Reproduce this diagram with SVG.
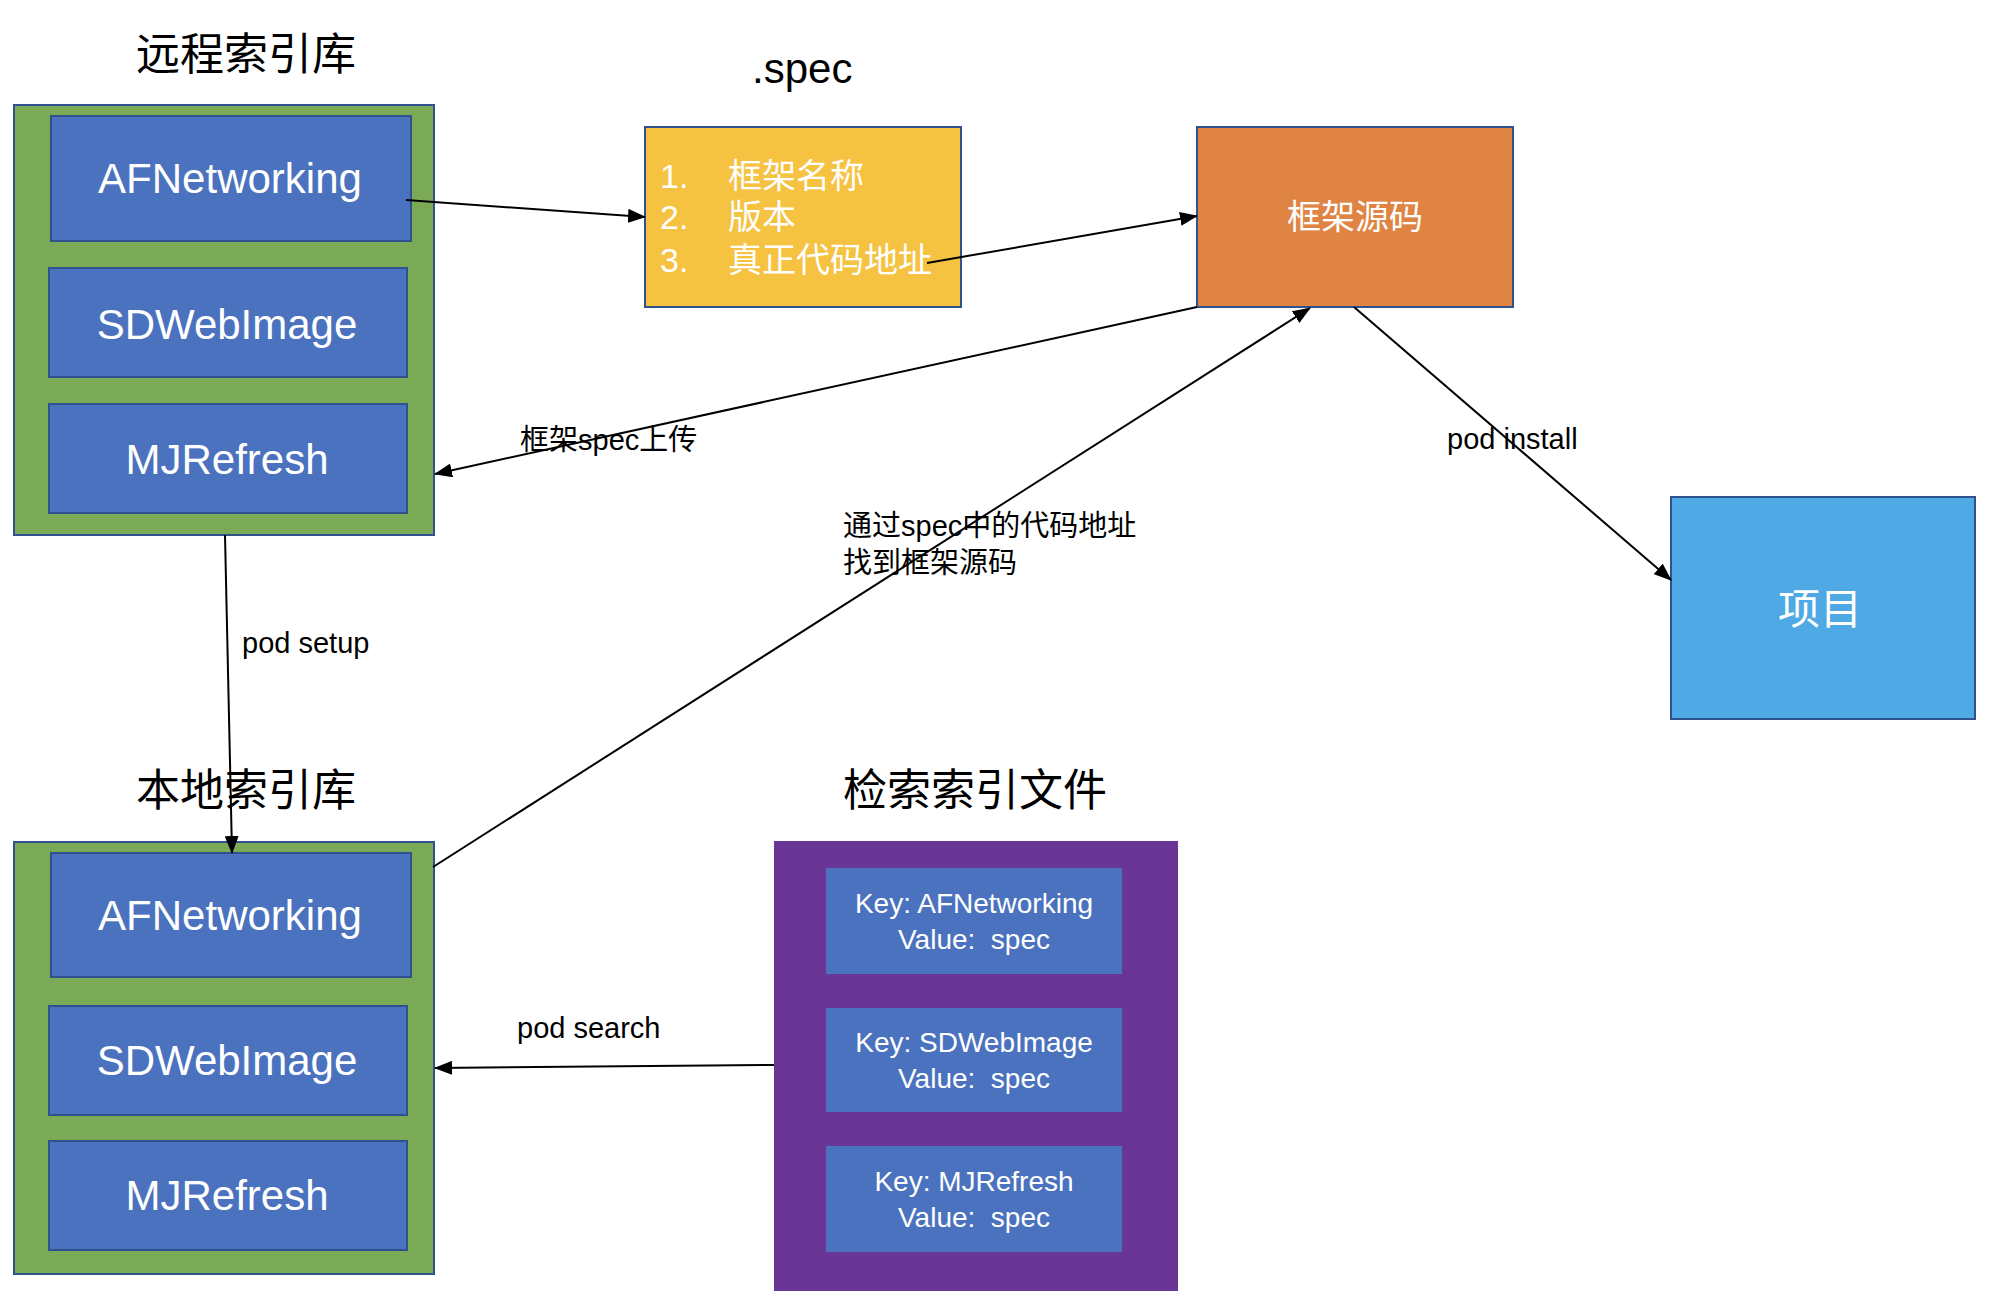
<svg xmlns="http://www.w3.org/2000/svg" width="1990" height="1304" viewBox="0 0 1990 1304">
<style>
text{font-family:"Liberation Sans","Noto Sans CJK SC",sans-serif;}
.box{stroke:#2F528F;stroke-width:2;}
.green{fill:#7AAA55;}
.blue{fill:#4B72BE;}
.yellow{fill:#F5C242;}
.orange{fill:#E08444;}
.purple{fill:#6A3696;}
.sky{fill:#4FA9E5;}
.lbl{fill:#fff;font-size:42px;text-anchor:middle;}
.kv{fill:#fff;font-size:28px;text-anchor:middle;}
.title{fill:#000;font-size:44px;}
.edge{fill:#000;font-size:29px;}
.conn line{stroke:#000;stroke-width:2;marker-end:url(#ah);}
</style>
<defs>
<marker id="ah" markerUnits="userSpaceOnUse" markerWidth="18" markerHeight="14" viewBox="0 0 18 14" refX="17" refY="7" orient="auto">
<path d="M0,0 L18,7 L0,14 Z" fill="#000"/>
</marker>
</defs>
<rect width="1990" height="1304" fill="#fff"/>

<g id="remote">
<text class="title" x="136" y="70">远程索引库</text>
<rect class="box green" x="14" y="105" width="420" height="430"/>
<rect class="box blue" x="51" y="116" width="360" height="125"/>
<text class="lbl" x="230" y="193">AFNetworking</text>
<rect class="box blue" x="49" y="268" width="358" height="109"/>
<text class="lbl" x="227" y="339">SDWebImage</text>
<rect class="box blue" x="49" y="404" width="358" height="109"/>
<text class="lbl" x="227" y="474">MJRefresh</text>
</g>

<g id="spec">
<text class="title" x="752" y="83" style="font-size:42px">.spec</text>
<rect class="box yellow" x="645" y="127" width="316" height="180"/>
<g fill="#fff" font-size="34">
<text x="660" y="188">1.</text><text x="728" y="188">框架名称</text>
<text x="660" y="229">2.</text><text x="728" y="229">版本</text>
<text x="660" y="272">3.</text><text x="728" y="272">真正代码地址</text>
</g>
</g>

<g id="source">
<rect class="box orange" x="1197" y="127" width="316" height="180"/>
<text x="1355" y="229" fill="#fff" font-size="34" text-anchor="middle">框架源码</text>
</g>

<g id="project">
<rect class="box sky" x="1671" y="497" width="304" height="222"/>
<text x="1820" y="624" fill="#fff" font-size="42" text-anchor="middle">项目</text>
</g>

<g id="local">
<text class="title" x="136" y="806">本地索引库</text>
<rect class="box green" x="14" y="842" width="420" height="432"/>
<rect class="box blue" x="51" y="853" width="360" height="124"/>
<text class="lbl" x="230" y="930">AFNetworking</text>
<rect class="box blue" x="49" y="1006" width="358" height="109"/>
<text class="lbl" x="227" y="1075">SDWebImage</text>
<rect class="box blue" x="49" y="1141" width="358" height="109"/>
<text class="lbl" x="227" y="1210">MJRefresh</text>
</g>

<g id="index">
<text class="title" x="843" y="806">检索索引文件</text>
<rect class="purple" x="774" y="841" width="404" height="450"/>
<rect class="blue" x="826" y="868" width="296" height="106"/>
<text class="kv" x="974" y="913">Key: AFNetworking</text>
<text class="kv" x="974" y="949">Value:&#160; spec</text>
<rect class="blue" x="826" y="1008" width="296" height="104"/>
<text class="kv" x="974" y="1052">Key: SDWebImage</text>
<text class="kv" x="974" y="1088">Value:&#160; spec</text>
<rect class="blue" x="826" y="1146" width="296" height="106"/>
<text class="kv" x="974" y="1191">Key: MJRefresh</text>
<text class="kv" x="974" y="1227">Value:&#160; spec</text>
</g>

<g id="connectors" class="conn">
<line x1="406" y1="200" x2="645" y2="217"/>
<line x1="927" y1="263" x2="1197" y2="216"/>
<line x1="1197" y1="307" x2="435" y2="474"/>
<line x1="433" y1="867" x2="1310" y2="308"/>
<line x1="1354" y1="307" x2="1671" y2="580"/>
<line x1="225" y1="535" x2="232" y2="853"/>
<line x1="774" y1="1065" x2="435" y2="1068"/>
</g>

<g id="labels">
<text class="edge" x="520" y="450">框架spec上传</text>
<text class="edge" x="1447" y="449">pod install</text>
<text class="edge" x="242" y="653">pod setup</text>
<text class="edge" x="843" y="536">通过spec中的代码地址</text>
<text class="edge" x="843" y="573">找到框架源码</text>
<text class="edge" x="517" y="1038">pod search</text>
</g>
</svg>
